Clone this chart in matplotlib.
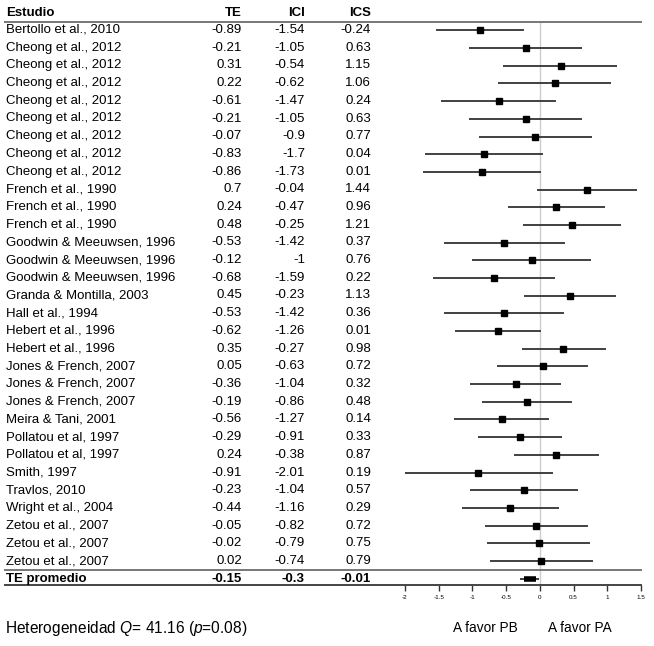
import matplotlib
matplotlib.use("Agg")
import matplotlib.pyplot as plt
from matplotlib.lines import Line2D
import numpy as np

# --- Datos ---
estudios = [
    "Bertollo et al., 2010",
    "Cheong et al., 2012", "Cheong et al., 2012", "Cheong et al., 2012",
    "Cheong et al., 2012", "Cheong et al., 2012", "Cheong et al., 2012",
    "Cheong et al., 2012", "Cheong et al., 2012",
    "French et al., 1990", "French et al., 1990", "French et al., 1990",
    "Goodwin & Meeuwsen, 1996", "Goodwin & Meeuwsen, 1996", "Goodwin & Meeuwsen, 1996",
    "Granda & Montilla, 2003", "Hall et al., 1994",
    "Hebert et al., 1996", "Hebert et al., 1996",
    "Jones & French, 2007", "Jones & French, 2007", "Jones & French, 2007",
    "Meira & Tani, 2001", "Pollatou et al, 1997", "Pollatou et al, 1997",
    "Smith, 1997", "Travlos, 2010", "Wright et al., 2004",
    "Zetou et al., 2007", "Zetou et al., 2007", "Zetou et al., 2007",
]
te = [-0.89, -0.21, 0.31, 0.22, -0.61, -0.21, -0.07, -0.83, -0.86,
      0.7, 0.24, 0.48, -0.53, -0.12, -0.68, 0.45, -0.53, -0.62, 0.35,
      0.05, -0.36, -0.19, -0.56, -0.29, 0.24, -0.91, -0.23, -0.44,
      -0.05, -0.02, 0.02]
ici = [-1.54, -1.05, -0.54, -0.62, -1.47, -1.05, -0.9, -1.7, -1.73,
       -0.04, -0.47, -0.25, -1.42, -1, -1.59, -0.23, -1.42, -1.26, -0.27,
       -0.63, -1.04, -0.86, -1.27, -0.91, -0.38, -2.01, -1.04, -1.16,
       -0.82, -0.79, -0.74]
ics = [-0.24, 0.63, 1.15, 1.06, 0.24, 0.63, 0.77, 0.04, 0.01,
       1.44, 0.96, 1.21, 0.37, 0.76, 0.22, 1.13, 0.36, 0.01, 0.98,
       0.72, 0.32, 0.48, 0.14, 0.33, 0.87, 0.19, 0.57, 0.29,
       0.72, 0.75, 0.79]
te_prom, ici_prom, ics_prom = -0.15, -0.3, -0.01
ticks = [-2, -1.5, -1, -0.5, 0, 0.5, 1, 1.5]

plt.rcParams["font.family"] = ["Liberation Sans", "DejaVu Sans"]
plt.rcParams["mathtext.fontset"] = "custom"
plt.rcParams["mathtext.rm"] = "Liberation Sans"
plt.rcParams["mathtext.it"] = "Liberation Sans:italic"

W, H = 654, 646
fig = plt.figure(figsize=(W / 100, H / 100), dpi=100)

def fx(px):
    return px / W

def fy(py):
    return 1 - py / H

# forest axes: x from -2 (405 px) to 1.5 (641 px); rows 0.5 .. 32.36
ax = fig.add_axes([fx(405), fy(585), fx(641) - fx(405), fy(21.6) - fy(585)])
n = len(estudios)
filas = np.arange(1, n + 1)
fila_prom = n + 1

ax.set_xlim(-2, 1.5)
ax.set_ylim(fila_prom + 0.36, 0.5)
ax.axvline(0, color="#cccccc", lw=1, zorder=0)

ax.hlines(filas, ici, ics, color="#333333", lw=1.3)
ax.plot(te, filas, "s", color="black", ms=3.9)
ax.hlines(fila_prom, ici_prom, ics_prom, color="#333333", lw=1.3)
ax.plot(te_prom, fila_prom, "_", color="black", ms=8, mew=4)

for s in ["left", "right", "top", "bottom"]:
    ax.spines[s].set_visible(False)
ax.set_yticks([])
ax.set_xticks(ticks)
ax.set_xticklabels([f"{t:g}" for t in ticks], fontsize=4.5)
ax.tick_params(axis="x", direction="out", length=4, width=1, color="#333333", pad=3)

# lineas horizontales
for ypx, col in [(21.6, "#777777"), (569.5, "#777777"), (585, "#444444")]:
    fig.add_artist(Line2D([fx(5), fx(641)], [fy(ypx), fy(ypx)],
                          color=col, lw=1.4, transform=fig.transFigure))

# tabla
fs = 9.5
def row_y(r):
    return fy(30 + (r - 1) * 17.7)

fig.text(fx(6), fy(13), "Estudio", fontsize=fs, fontweight="bold", va="center")
for lab, xr in [("TE", 242), ("ICI", 305), ("ICS", 371)]:
    fig.text(fx(xr), fy(13), lab, fontsize=fs, fontweight="bold", va="center", ha="right")

for i in range(n):
    y = row_y(filas[i])
    fig.text(fx(6), y, estudios[i], fontsize=fs, va="center")
    fig.text(fx(242), y, f"{te[i]:g}", fontsize=fs, va="center", ha="right")
    fig.text(fx(305), y, f"{ici[i]:g}", fontsize=fs, va="center", ha="right")
    fig.text(fx(371), y, f"{ics[i]:g}", fontsize=fs, va="center", ha="right")

y = row_y(fila_prom)
fig.text(fx(6), y, "TE promedio", fontsize=fs, va="center", fontweight="bold")
fig.text(fx(242), y, f"{te_prom:g}", fontsize=fs, va="center", ha="right", fontweight="bold")
fig.text(fx(305), y, f"{ici_prom:g}", fontsize=fs, va="center", ha="right", fontweight="bold")
fig.text(fx(371), y, f"{ics_prom:g}", fontsize=fs, va="center", ha="right", fontweight="bold")

fig.text(fx(5), fy(628), "Heterogeneidad $Q$= 41.16 ($p$=0.08)", fontsize=11.2, va="center")
fig.text(fx(453), fy(628), "A favor PB", fontsize=9.8, va="center")
fig.text(fx(548), fy(628), "A favor PA", fontsize=9.8, va="center")

fig.savefig("out.png", dpi=100)
